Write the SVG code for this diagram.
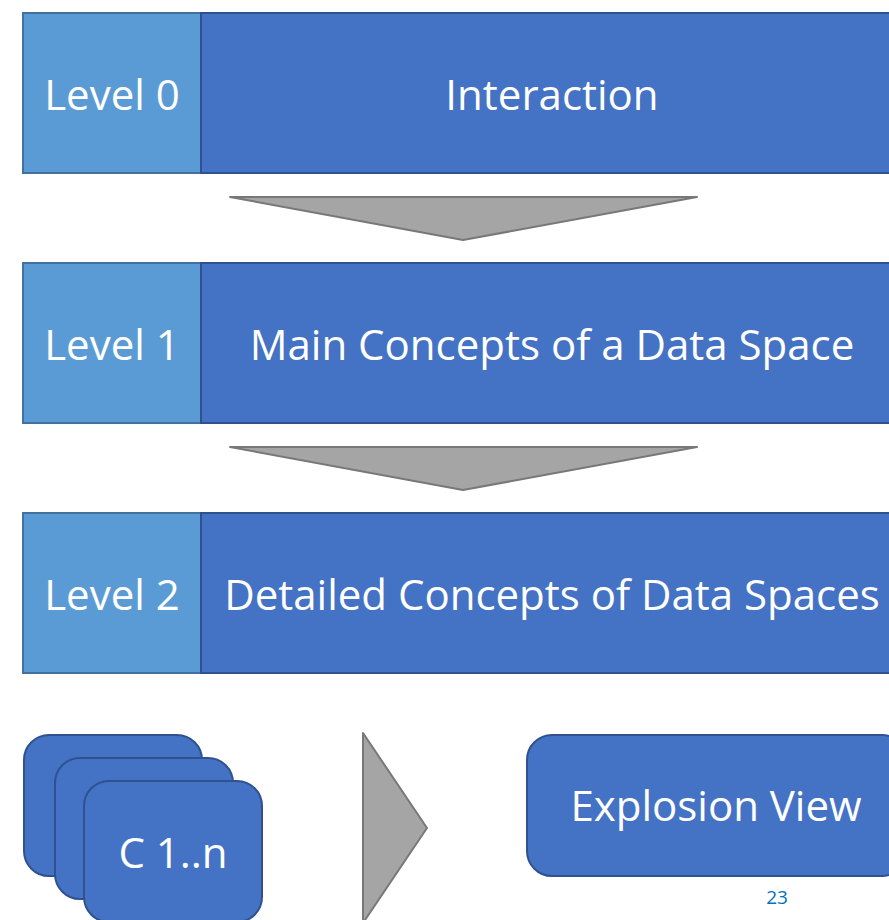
<svg xmlns="http://www.w3.org/2000/svg" width="889" height="920" viewBox="0 0 889 920">
  <style>
    .lvl { fill: #5B9BD5; stroke: #41719C; stroke-width: 2; }
    .main { fill: #4472C4; stroke: #2F528F; stroke-width: 2; }
    .card { fill: #4472C4; stroke: #2F528F; stroke-width: 2; }
    .arrow { fill: #A5A5A5; stroke: #787878; stroke-width: 2; stroke-linejoin: round; }
    .t { fill: #FFFFFF; font-family: "Open Sans", "Liberation Sans", sans-serif; font-size: 42px; text-anchor: middle; }
    .pg { fill: #0070C0; font-family: "Open Sans", "Liberation Sans", sans-serif; font-size: 19px; text-anchor: middle; }
  </style>
  <rect width="889" height="920" fill="#FFFFFF"/>

  <!-- level rows -->
  <g id="level0">
    <rect class="lvl" x="23" y="13" width="178" height="160"/>
    <text class="t" x="112" y="110">Level 0</text>
  </g>
  <g id="interaction">
    <rect class="main" x="201" y="13" width="702" height="160"/>
    <text class="t" x="552" y="110">Interaction</text>
  </g>
  <g id="level1">
    <rect class="lvl" x="23" y="263" width="178" height="160"/>
    <text class="t" x="112" y="360">Level 1</text>
  </g>
  <g id="main-concepts">
    <rect class="main" x="201" y="263" width="702" height="160"/>
    <text class="t" x="552" y="360">Main Concepts of a Data Space</text>
  </g>
  <g id="level2">
    <rect class="lvl" x="23" y="513" width="178" height="160"/>
    <text class="t" x="112" y="610">Level 2</text>
  </g>
  <g id="detailed-concepts">
    <rect class="main" x="201" y="513" width="702" height="160"/>
    <text class="t" x="552" y="610">Detailed Concepts of Data Spaces</text>
  </g>

  <!-- stacked concept cards -->
  <g id="concepts">
    <rect class="card" x="24" y="735" width="178" height="141" rx="25"/>
    <rect class="card" x="55" y="758" width="178" height="141" rx="25"/>
    <rect class="card" x="84" y="781" width="178" height="141" rx="25"/>
    <text class="t" x="173" y="868">C 1..n</text>
  </g>

  <g id="explosion-view">
    <rect class="card" x="527" y="735" width="380" height="141" rx="25"/>
    <text class="t" x="716" y="821">Explosion View</text>
  </g>

  <!-- connectors -->
  <g id="connectors">
    <polygon class="arrow" points="230,197 697,197 463,240"/>
    <polygon class="arrow" points="230,447 697,447 463,490"/>
    <polygon class="arrow" points="363,733 427,828 363,923"/>
  </g>

  <text class="pg" x="777" y="904">23</text>
</svg>
